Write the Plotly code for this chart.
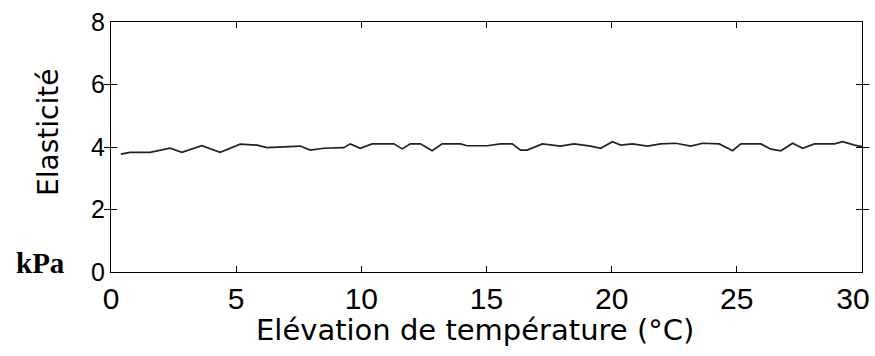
import plotly.graph_objects as go

temp = [0.39, 0.76, 1.56, 2.36, 2.83, 3.63, 4.36, 5.16, 5.83, 6.23, 7.56, 7.96, 8.5, 9.3, 9.56,
        9.96, 10.43, 11.3, 11.63, 11.96, 12.36, 12.83, 13.23, 13.96, 14.23, 15.03, 15.56, 16.03,
        16.36, 16.63, 17.23, 17.56, 17.96, 18.5, 19.16, 19.56, 20.03, 20.36, 20.83, 21.43, 21.96,
        22.56, 23.16, 23.63, 24.3, 24.83, 25.16, 25.96, 26.36, 26.76, 27.23, 27.63, 28.1, 28.9,
        29.23, 29.7, 30.0]
elast = [3.77, 3.83, 3.83, 3.96, 3.83, 4.04, 3.83, 4.09, 4.06, 3.98, 4.03, 3.90, 3.96, 3.98, 4.10,
         3.96, 4.10, 4.10, 3.94, 4.10, 4.10, 3.88, 4.10, 4.10, 4.04, 4.04, 4.10, 4.10,
         3.90, 3.90, 4.10, 4.06, 4.03, 4.10, 4.03, 3.96, 4.17, 4.06, 4.10, 4.03, 4.10,
         4.12, 4.03, 4.12, 4.10, 3.88, 4.10, 4.10, 3.93, 3.88, 4.12, 3.96, 4.10, 4.10,
         4.17, 4.06, 4.01]

x_ticks = [0, 5, 10, 15, 20, 25, 30]
x_ticktext = ["0", "5", "10", "15", "20", "25", ""]
x_last_tick = [30]
x_last_text = ["30"]
y_ticks = [0, 2, 4, 6, 8]

fig = go.Figure()
fig.add_trace(go.Scatter(x=temp, y=elast, mode="lines",
                         line=dict(color="#222222", width=1.7), showlegend=False))
# helper (invisible) trace so the overlay axis carrying the last label is drawn
fig.add_trace(go.Scatter(x=temp, y=elast, xaxis="x2", mode="lines",
                         line=dict(width=0), opacity=0, hoverinfo="skip", showlegend=False))

axis_common = dict(showline=True, linecolor="black", linewidth=1.3, mirror="allticks",
                   ticks="inside", ticklen=6, tickwidth=1.2, tickcolor="black",
                   showgrid=False, zeroline=False, ticklabeloverflow="allow",
                   automargin=False)

fig.update_layout(
    width=875, height=356,
    margin=dict(l=111, r=13, t=22, b=84),
    paper_bgcolor="white", plot_bgcolor="white",
    xaxis=dict(range=[0, 30.001], tickvals=x_ticks, ticktext=x_ticktext,
               tickfont=dict(family="Liberation Sans, Arial", size=30, color="black"),
               **axis_common),
    xaxis2=dict(range=[0, 30.001], overlaying="x", anchor="y", side="bottom",
                tickvals=x_last_tick, ticktext=x_last_text, ticks="inside", ticklen=6,
                tickwidth=1.2, tickcolor="rgba(0,0,0,0)", showline=True,
                linecolor="rgba(0,0,0,0)", linewidth=1.3,
                showgrid=False, zeroline=False, ticklabelshift=-9, automargin=False,
                ticklabeloverflow="allow",
                tickfont=dict(family="Liberation Sans, Arial", size=30, color="black")),
    yaxis=dict(range=[0, 8.0003], tickvals=y_ticks, ticktext=[str(v) for v in y_ticks],
               tickfont=dict(family="Liberation Sans, Arial", size=25, color="black"),
               **axis_common),
    annotations=[
        dict(text="Elasticité", xref="paper", yref="paper", x=-0.084, y=0.56,
             textangle=-90, showarrow=False, xanchor="center", yanchor="middle",
             font=dict(family="DejaVu Sans", size=28, color="black")),
        dict(text="Elévation de température (°C)", xref="paper", yref="paper",
             x=0.485, y=-0.23, showarrow=False, xanchor="center", yanchor="middle",
             font=dict(family="DejaVu Sans", size=29, color="black")),
        dict(text="<b>kPa</b>", xref="paper", yref="paper", x=-0.059, y=0.036,
             showarrow=False, xanchor="right", yanchor="middle",
             font=dict(family="Liberation Serif, Times New Roman", size=29, color="black")),
    ],
)

fig.write_html("out.html")
